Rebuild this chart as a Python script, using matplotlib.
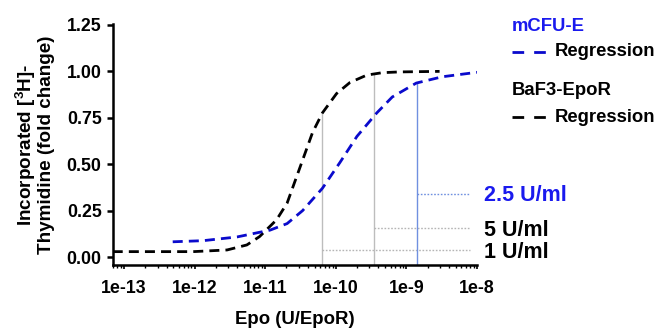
import numpy as np
import matplotlib.pyplot as plt
from matplotlib.lines import Line2D

plt.rcParams['font.family'] = ['Liberation Sans', 'DejaVu Sans']
plt.rcParams['font.weight'] = 'bold'
plt.rcParams['mathtext.fontset'] = 'custom'
plt.rcParams['mathtext.rm'] = 'Liberation Sans:bold'
plt.rcParams['mathtext.bf'] = 'Liberation Sans:bold'

# regression curves (log10 of Epo in U/EpoR)
baf3_logx = [-13.16, -12.49, -12.02, -11.54, -11.26, -11.08, -10.84, -10.69,
             -10.51, -10.33, -10.19, -9.99, -9.80, -9.56, -9.34, -9.10, -8.53]
baf3_y = [0.029, 0.029, 0.029, 0.038, 0.065, 0.11, 0.20, 0.29,
          0.48, 0.67, 0.776, 0.88, 0.94, 0.98, 0.993, 0.997, 1.0]

cfu_logx = [-12.31, -11.88, -11.40, -10.93, -10.69, -10.47, -10.19, -9.94,
            -9.70, -9.42, -9.20, -8.86, -8.49, -8.00]
cfu_y = [0.082, 0.088, 0.108, 0.145, 0.18, 0.25, 0.37, 0.51,
         0.65, 0.776, 0.862, 0.937, 0.971, 0.995]

# Epo concentrations marked with reference lines
ref_labels = ['1 U/ml', '5 U/ml', '2.5 U/ml']
ref_logx = [-10.19, -9.46, -8.85]
ref_top = [0.776, 0.985, 0.935]
ref_level = [0.038, 0.155, 0.338]
ref_text_y = [0.027, 0.145, 0.329]

xtick_exp = [-13, -12, -11, -10, -9, -8]
ytick_vals = [0.00, 0.25, 0.50, 0.75, 1.00, 1.25]

blue = '#0a0acc'
black = '#000000'

fig = plt.figure(figsize=(6.58, 3.31), dpi=100)
ax = fig.add_axes([0.1713, 0.1994, 0.5536, 0.728])

ymin = -0.043
dash = (3.6, 2.2)

ax.plot(10.0 ** np.array(baf3_logx), baf3_y, color=black, lw=2,
        dashes=dash, zorder=3)
ax.plot(10.0 ** np.array(cfu_logx), cfu_y, color=blue, lw=2,
        dashes=dash, zorder=3)

ref_vcolors = ['#bdbdbd', '#bdbdbd', '#7090e0']
ref_hcolors = ['#b5b5b5', '#b5b5b5', '#7090e0']
ref_tcolors = [black, black, '#1a1aee']
for lx, top, lev, ty, lab, vc, hc, tc in zip(ref_logx, ref_top, ref_level,
                                             ref_text_y, ref_labels, ref_vcolors,
                                             ref_hcolors, ref_tcolors):
    x = 10.0 ** lx
    ax.plot([x, x], [ymin, top], color=vc, lw=1, zorder=2)
    ax.plot([x, 10.0 ** -8.1], [lev, lev], color=hc, lw=1, ls=(0, (1.2, 1.2)), zorder=2)
    ax.text(10.0 ** -7.894, ty, lab, color=tc, fontsize=15.5, fontweight='bold',
            va='center', ha='left', clip_on=False)

ax.set_xscale('log')
ax.set_xlim(10.0 ** -13.16, 1e-8)
ax.set_ylim(ymin, 1.255)
ax.set_xticks([10.0 ** e for e in xtick_exp])
ax.set_xticklabels(['1e%d' % e for e in xtick_exp])
ax.set_yticks(ytick_vals)
ax.set_yticklabels(['%.2f' % v for v in ytick_vals])

for s in ['top', 'right']:
    ax.spines[s].set_visible(False)
for s in ['left', 'bottom']:
    ax.spines[s].set_linewidth(1.8)

ax.tick_params(axis='x', which='major', length=3, width=1.2, pad=8, labelsize=12.8)
ax.tick_params(axis='x', which='minor', length=2, width=1)
ax.tick_params(axis='y', which='major', length=4, width=1.8, pad=4, labelsize=12.8)

ax.set_xlabel('Epo (U/EpoR)', fontsize=13.4, fontweight='bold', labelpad=10)
ax.set_ylabel('Incorporated [$^3$H]-\nThymidine (fold change)', fontsize=13.6,
              fontweight='bold', labelpad=8, linespacing=1.0)

# legend drawn by hand to the right of the plot
tr = ax.transAxes
fs_leg = 13.3
ax.text(1.096, 0.988, 'mCFU-E', color='#1a1aee', fontsize=fs_leg, fontweight='bold',
        va='center', ha='left', transform=tr, clip_on=False)
ax.add_line(Line2D([1.096, 1.189], [0.884, 0.884], color=blue, lw=2,
                   dashes=(4.2, 3.6), transform=tr, clip_on=False))
ax.text(1.214, 0.884, 'Regression', color=black, fontsize=fs_leg, fontweight='bold',
        va='center', ha='left', transform=tr, clip_on=False)
ax.text(1.096, 0.726, 'BaF3-EpoR', color=black, fontsize=fs_leg, fontweight='bold',
        va='center', ha='left', transform=tr, clip_on=False)
ax.add_line(Line2D([1.096, 1.189], [0.614, 0.614], color=black, lw=2,
                   dashes=(4.2, 3.6), transform=tr, clip_on=False))
ax.text(1.214, 0.614, 'Regression', color=black, fontsize=fs_leg, fontweight='bold',
        va='center', ha='left', transform=tr, clip_on=False)

fig.savefig('out.png', dpi=100)
